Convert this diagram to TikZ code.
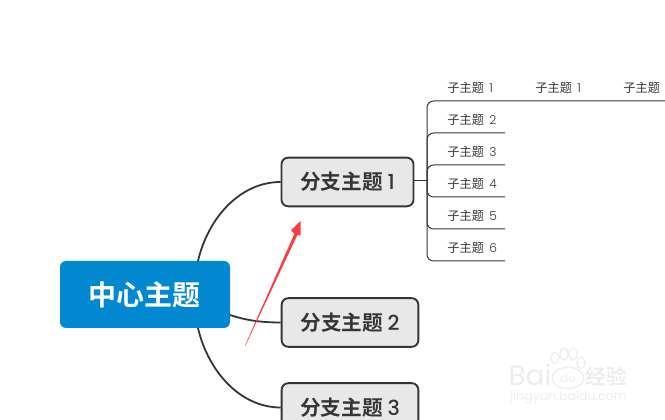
\documentclass[tikz,border=0pt]{standalone}
\usepackage{fontspec}
\setmainfont{Poppins}
\newfontfamily\cjk{Noto Sans CJK SC}
\newfontfamily\cjkb{Noto Sans CJK SC Bold}
\newfontfamily\latb{Poppins Medium}
\definecolor{ink}{HTML}{353535}
\definecolor{blue0}{HTML}{0288D1}
\definecolor{fillg}{HTML}{E8E8E8}
\definecolor{redar}{HTML}{FF3B3F}
\definecolor{wm}{HTML}{EDEDED}
\tikzset{
  x=0.75pt,y=-0.75pt,
  centre/.style={rounded corners=4.5pt,fill=blue0,text=white,minimum width=127.5pt,minimum height=50.25pt,inner sep=0pt,font=\fontsize{21}{23}\cjkb},
  branch/.style={rounded corners=5pt,draw=ink,line width=1.4pt,fill=fillg,text=ink,minimum height=36.5pt,inner sep=0pt,font=\fontsize{15.5}{18}\cjkb},
  leaf/.style={text=ink,inner sep=0pt,anchor=west,font=\fontsize{9.2}{11}\cjk},
  curve/.style={draw=ink,line width=1.35pt},
  tree/.style={draw=ink,line width=0.75pt,rounded corners=5pt},
  wmark/.style={text=wm,inner sep=0pt},
}
\newcommand{\lb}[1]{{\latb #1}}
\newcommand{\ls}[1]{\hspace{2pt}{\fontspec{Poppins Light}#1}}
\begin{document}
\begin{tikzpicture}
\useasboundingbox (0,0) rectangle (665,420);
\clip (0,0) rectangle (665,420);
\node[centre] (c) at (145,294.5) {中心主题};
\node[branch,minimum width=99pt] (b1) at (347.5,182) {分支主题 \lb{1}};
\node[branch,minimum width=102.5pt] (b2) at (350,322.5) {分支主题 \lb{2}};
\node[branch,minimum width=102.5pt] (b3) at (350,407.5) {分支主题 \lb{3}};
\coordinate (c1) at (198,261);
\coordinate (c2) at (230,315);
\coordinate (c3) at (198,328);
\draw[curve] (c1) .. controls (208,218) and (240,182) .. (b1.west);
\draw[curve] (c2) .. controls (245,320) and (260,322.5) .. (b2.west);
\draw[curve] (c3) .. controls (208,371) and (240,407.5) .. (b3.west);
\node[leaf] (l1) at (447,88) {子主题 \ls{1}};
\node[leaf] (m1) at (535,88) {子主题 \ls{1}};
\node[leaf] (r1) at (623,88) {子主题};
\node[leaf] (l2) at (447,120) {子主题 \ls{2}};
\node[leaf] (l3) at (447,152) {子主题 \ls{3}};
\node[leaf] (l4) at (447,184) {子主题 \ls{4}};
\node[leaf] (l5) at (447,216) {子主题 \ls{5}};
\node[leaf] (l6) at (447,248) {子主题 \ls{6}};
\coordinate (j) at (427,181);
\coordinate (e1) at (665,101);
\coordinate (e2) at (505,133);
\coordinate (e3) at (505,165);
\coordinate (e4) at (505,197);
\coordinate (e5) at (505,229);
\coordinate (e6) at (505,261);
\draw[draw=ink,line width=0.75pt] (b1.east |- j) -- (j);
\draw[tree] (j) |- (e1);
\draw[tree] (j) |- (e2);
\draw[tree] (j) |- (e3);
\draw[tree] (j) |- (e4);
\draw[tree] (j) |- (e5);
\draw[tree] (j) |- (e6);
\coordinate (as) at (245,345.5);
\coordinate (at) at (300.5,221);
\fill[redar] (as) -- (294.5,233.5) -- (291,230.5) -- (at) -- (300.5,235.5) -- (297.5,234.8) -- (245.4,345.7) -- cycle;
\node[wmark,font=\fontsize{21}{23}\selectfont] (w1) at (530,374.5) {Bai};
\node[wmark,font=\fontsize{9}{10}\selectfont] (w2) at (568,378) {du};
\node[wmark,font=\fontsize{15.5}{17}\cjkb] (w3) at (606,376) {经验};
\node[wmark,font=\fontsize{9.4}{11}\selectfont] (w4) at (568.5,397) {jingyan.baidu.com};
\draw[wm,line width=1pt] (568,378) ellipse[x radius=12pt,y radius=8pt];
\foreach \px/\py/\rx/\ry in {555/358/3/4.2,564/354/3/4.5,573/354/3/4.5,581/363/3/4.2}
  \draw[wm,line width=1pt] (\px,\py) ellipse[x radius=\rx pt,y radius=\ry pt];
\end{tikzpicture}
\end{document}
